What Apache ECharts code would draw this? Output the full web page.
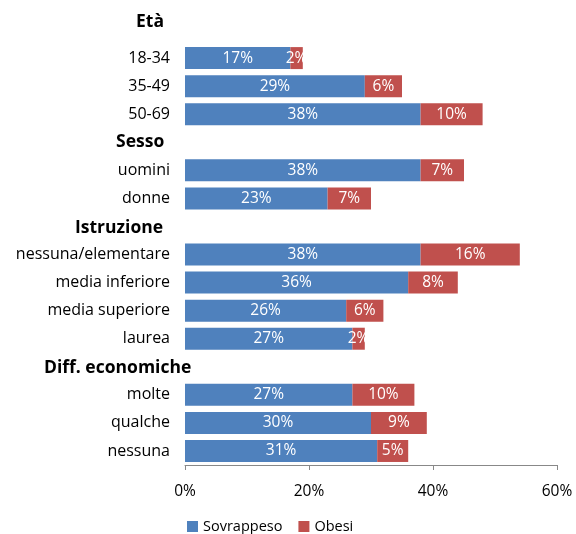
<!DOCTYPE html>
<html>
<head>
<meta charset="utf-8">
<script src="https://cdn.jsdelivr.net/npm/echarts@6/dist/echarts.min.js"></script>
<style>
  html, body { margin: 0; padding: 0; background: #fff; }
  #chart { width: 576px; height: 534px; }
</style>
</head>
<body>
<div id="chart"></div>
<script>
// Row labels; group header rows are left blank here and drawn as bold headings
const categories = [
  '', '18-34', '35-49', '50-69',
  '', 'uomini', 'donne',
  '', 'nessuna/elementare', 'media inferiore', 'media superiore', 'laurea',
  '', 'molte', 'qualche', 'nessuna'
];
// Group headings and the row each one sits on
const groupHeaders = ['Età', 'Sesso', 'Istruzione', 'Diff. economiche'];
const headerRows = [0, 4, 7, 12];

// Percentages per row (null on header rows)
const sovrappeso = [null, 17, 29, 38, null, 38, 23, null, 38, 36, 26, 27, null, 27, 30, 31];
const obesi      = [null, 2, 6, 10, null, 7, 7, null, 16, 8, 6, 2, null, 10, 9, 5];

const seriesNames = ['Sovrappeso', 'Obesi'];
const xTicks = [0, 20, 40, 60];

const FONT = 'Open Sans';
const chart = echarts.init(document.getElementById('chart'));

const barLabel = {
  show: true,
  position: 'inside',
  color: '#fff',
  fontFamily: FONT,
  fontSize: 15.5,
  formatter: p => (p.value == null ? '' : p.value + '%')
};

chart.setOption({
  animation: false,
  grid: { left: 185, right: 19, top: 16, bottom: 69, containLabel: false },
  legend: {
    data: seriesNames,
    left: 182,
    top: 514,
    itemWidth: 11,
    itemHeight: 11,
    itemGap: 16,
    itemStyle: { borderWidth: 0 },
    icon: 'rect',
    textStyle: { fontFamily: FONT, fontSize: 14.5, color: '#000' }
  },
  xAxis: {
    type: 'value',
    min: xTicks[0],
    max: xTicks[xTicks.length - 1],
    interval: 20,
    axisLine: { show: true, lineStyle: { color: '#888', width: 1 } },
    axisTick: { show: true, length: 5, lineStyle: { color: '#888' } },
    splitLine: { show: false },
    axisLabel: { formatter: '{value}%', fontFamily: FONT, fontSize: 15.5, color: '#000', margin: 19 }
  },
  yAxis: {
    type: 'category',
    inverse: true,
    data: categories,
    axisLine: { show: false },
    axisTick: { show: false },
    axisLabel: { fontFamily: FONT, fontSize: 16, color: '#000', margin: 15 }
  },
  series: [
    {
      name: seriesNames[0], type: 'bar', stack: 'tot', barWidth: 22,
      itemStyle: { color: '#4F81BD' }, label: barLabel, data: sovrappeso
    },
    {
      name: seriesNames[1], type: 'bar', stack: 'tot', barWidth: 22,
      itemStyle: { color: '#C0504D' }, label: barLabel, data: obesi
    }
  ]
});

// Bold group headings placed on their category rows
const headerX = [136, 116, 75, 44];
const headerDy = [-8, 0, 2, 1];
chart.setOption({
  graphic: groupHeaders.map((h, i) => ({
    type: 'text',
    x: headerX[i],
    y: chart.convertToPixel({ yAxisIndex: 0 }, headerRows[i]) + headerDy[i],
    style: {
      text: h, fontFamily: FONT, fontSize: 17.5, fontWeight: 'bold', fill: '#000',
      verticalAlign: 'middle', align: 'left'
    }
  }))
});
</script>
</body>
</html>
